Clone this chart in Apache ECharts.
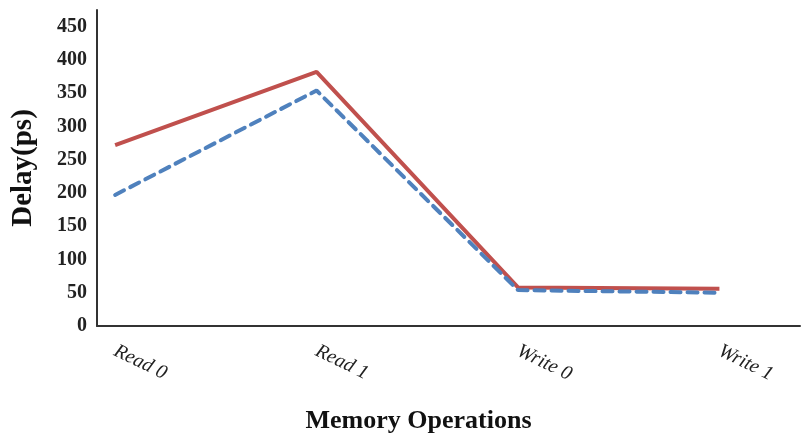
<!DOCTYPE html>
<html><head><meta charset="utf-8">
<script src="https://cdn.jsdelivr.net/npm/echarts@6/dist/echarts.min.js"></script>
<style>html,body{margin:0;padding:0;background:#fff}#c{width:801px;height:440px}</style>
</head><body><div id="c"></div>
<script>
const categories = ['Read 0', 'Read 1', 'Write 0', 'Write 1'];
const seriesA = [272, 382, 58, 56];   // solid red
const seriesB = [197, 354, 54, 50];   // dashed blue
const yTicks = [0, 50, 100, 150, 200, 250, 300, 350, 400, 450];

const chart = echarts.init(document.getElementById('c'));
const serif = '"Liberation Serif","Times New Roman",serif';
chart.setOption({
  animation: false,
  grid: { left: 97, right: 1, top: 10, bottom: 114, containLabel: false, outerBoundsMode: 'none' },
  xAxis: {
    type: 'value', min: -0.09, max: 3.4,
    name: 'Memory Operations', nameLocation: 'middle', nameGap: 82,
    nameTextStyle: { fontFamily: serif, fontWeight: 'bold', fontSize: 26, color: '#111', padding: [0, 60, 0, 0] },
    axisLine: { show: true, onZero: false, lineStyle: { color: '#333', width: 2 } },
    axisTick: { show: false },
    splitLine: { show: false },
    axisLabel: {
      customValues: categories.map((_, i) => i),
      formatter: v => categories[Math.round(v)] || '',
      rotate: -26, margin: 24,
      fontFamily: serif, fontStyle: 'italic', fontSize: 20, color: '#222'
    }
  },
  yAxis: {
    type: 'value', min: 0, max: 475, interval: 50,
    name: 'Delay(ps)', nameLocation: 'middle', nameGap: 59,
    nameTextStyle: { fontFamily: serif, fontWeight: 'bold', fontSize: 29, color: '#111' },
    axisLine: { show: true, onZero: false, lineStyle: { color: '#333', width: 2 } },
    axisTick: { show: false },
    splitLine: { show: false },
    axisLabel: {
      customValues: yTicks,
      margin: 10, fontFamily: serif, fontWeight: 'bold', fontSize: 20, color: '#222'
    }
  },
  series: [
    { type: 'line', data: seriesA.map((v, i) => [i, v]), symbol: 'none',
      lineStyle: { color: '#C0504D', width: 4 } },
    { type: 'line', data: seriesB.map((v, i) => [i, v]), symbol: 'none',
      lineStyle: { color: '#4F81BD', width: 4, type: [10, 7], cap: 'round' } }
  ]
});
</script></body></html>
